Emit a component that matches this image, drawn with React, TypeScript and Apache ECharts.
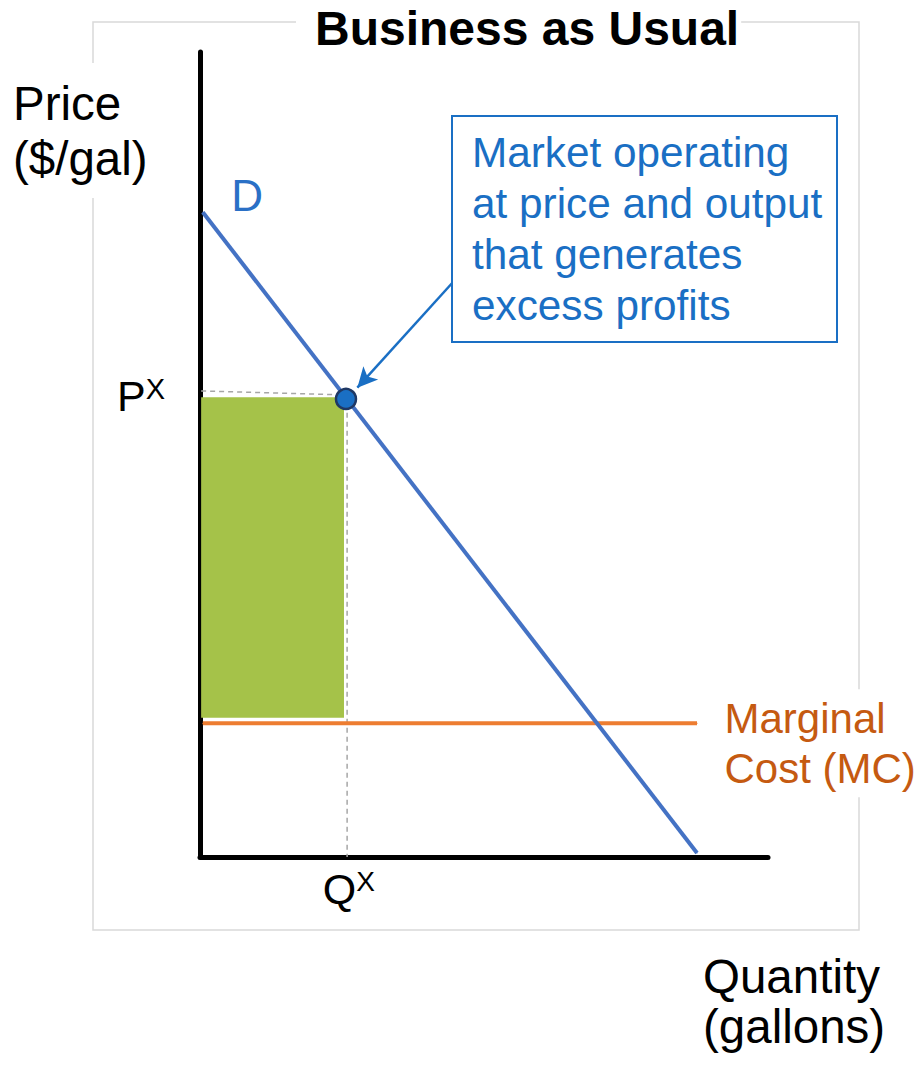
import React, { useEffect, useRef } from "react";
import * as echarts from "echarts";

// Data (quantity, price) in arbitrary units 0..100
const demandLine: number[][] = [[0.5, 80.1], [87.5, 0.5]];
const mcLine: number[][] = [[0.5, 16.6], [87.5, 16.6]];
const equilibrium: number[] = [25.7, 56.9];
const profitBox: number[] = [0.2, 17.3, 25.35, 57.1]; // x0, y0, x1, y1
const priceGuide: number[][] = [[0.2, 57.9], [25.7, 57.4]];
const qtyGuide: number[][] = [[25.9, 56.3], [25.9, 0]];
const pxTicks: number[] = [57.3];
const qxTicks: number[] = [26.2];
const arrowFrom: number[] = [44.4, 71.3];
const arrowTo: number[] = [27.7, 58.3];

const FONT = "Liberation Sans, Arial, Helvetica, sans-serif";
const BLUE = "#1A6FC4";

export default function App() {
  const ref = useRef<HTMLDivElement>(null);
  useEffect(() => {
    document.body.style.margin = "0";
    const chart = echarts.init(ref.current!, null, { renderer: "svg" });
    const option: any = {
      animation: false,
      backgroundColor: "#fff",
      textStyle: { fontFamily: FONT },
      grid: { left: 200, top: 52, width: 568, height: 805, containLabel: false, outerBoundsMode: "none" },
      xAxis: {
        type: "value",
        min: 0,
        max: 100,
        axisLine: { show: true, onZero: false, lineStyle: { color: "#000", width: 5 } },
        axisTick: { show: false },
        splitLine: { show: false },
        axisLabel: {
          customValues: qxTicks,
          margin: 10,
          formatter: () => "{a|Q}{b|X}",
          rich: {
            a: { fontSize: 43, color: "#000", fontFamily: FONT },
            b: { fontSize: 28, color: "#000", fontFamily: FONT, verticalAlign: "top" },
          },
        },
      },
      yAxis: {
        type: "value",
        min: 0,
        max: 100,
        axisLine: { show: true, onZero: false, lineStyle: { color: "#000", width: 5 } },
        axisTick: { show: false },
        splitLine: { show: false },
        axisLabel: {
          customValues: pxTicks,
          margin: 35,
          formatter: () => "{a|P}{b|X}",
          rich: {
            a: { fontSize: 43, color: "#000", fontFamily: FONT },
            b: { fontSize: 29, color: "#000", fontFamily: FONT, verticalAlign: "top" },
          },
        },
      },
      graphic: [
        {
          type: "rect",
          z: 0,
          silent: true,
          shape: { x: 93, y: 22, width: 766, height: 908 },
          style: { fill: "none", stroke: "#D9D9D9", lineWidth: 1.5 },
        },
        {
          type: "text",
          z: 10,
          x: 296,
          y: 28,
          style: {
            text: "Business as Usual",
            fontSize: 48,
            fontWeight: "bold",
            fontFamily: FONT,
            fill: "#000",
            align: "left",
            verticalAlign: "middle",
            backgroundColor: "#fff",
            padding: [4, 2, 4, 19],
          },
        },
        {
          type: "text",
          z: 10,
          x: 10,
          y: 63,
          style: {
            text: "Price\n($/gal)",
            fontSize: 47.5,
            lineHeight: 55,
            fontFamily: FONT,
            fill: "#000",
            align: "left",
            verticalAlign: "top",
            backgroundColor: "#fff",
            padding: [13, 8, 12, 3],
          },
        },
        {
          type: "text",
          z: 10,
          x: 703,
          y: 951,
          style: {
            text: "Quantity\n(gallons)",
            fontSize: 47.5,
            lineHeight: 50,
            fontFamily: FONT,
            fill: "#000",
            align: "left",
            verticalAlign: "top",
          },
        },
        {
          type: "rect",
          z: 10,
          shape: { x: 452, y: 116, width: 385, height: 226 },
          style: { fill: "#fff", stroke: BLUE, lineWidth: 2 },
        },
        {
          type: "text",
          z: 11,
          x: 472,
          y: 127,
          style: {
            text: "Market operating\nat price and output\nthat generates\nexcess profits",
            fontSize: 42.3,
            lineHeight: 51,
            fontFamily: FONT,
            fill: BLUE,
            align: "left",
            verticalAlign: "top",
          },
        },
      ],
      series: [
        {
          type: "custom",
          z: 1,
          silent: true,
          data: [profitBox],
          encode: { x: [0, 2], y: [1, 3] },
          renderItem: (_p: any, api: any) => {
            const p0 = api.coord([api.value(0), api.value(1)]);
            const p1 = api.coord([api.value(2), api.value(3)]);
            return {
              type: "rect",
              shape: { x: p0[0], y: p1[1], width: p1[0] - p0[0], height: p0[1] - p1[1] },
              style: { fill: "#A5C249" },
            };
          },
        },
        {
          type: "line",
          z: 3,
          silent: true,
          data: priceGuide,
          symbol: "none",
          lineStyle: { color: "#A6A6A6", width: 1.5, type: [5, 4] },
        },
        {
          type: "line",
          z: 3,
          silent: true,
          data: qtyGuide,
          symbol: "none",
          lineStyle: { color: "#A6A6A6", width: 1.5, type: [5, 4] },
        },
        {
          type: "line",
          z: 4,
          silent: true,
          data: mcLine.map((p, i) =>
            i === 1
              ? {
                  value: p,
                  label: {
                    show: true,
                    position: "right",
                    distance: 23,
                    offset: [0, 20],
                    formatter: "Marginal\nCost (MC)",
                    fontSize: 42,
                    lineHeight: 50,
                    fontFamily: FONT,
                    color: "#C55A11",
                    align: "left",
                    backgroundColor: "#fff",
                    padding: [4, 4, 4, 4],
                  },
                }
              : p
          ),
          symbol: "circle",
          symbolSize: 1,
          showSymbol: true,
          itemStyle: { color: "#ED7D31" },
          lineStyle: { color: "#ED7D31", width: 4 },
        },
        {
          type: "line",
          z: 5,
          silent: true,
          data: demandLine.map((p, i) =>
            i === 0
              ? {
                  value: p,
                  label: {
                    show: true,
                    position: "right",
                    distance: 28,
                    offset: [0, -17],
                    formatter: "D",
                    fontSize: 44,
                    fontFamily: FONT,
                    color: "#2A70C6",
                  },
                }
              : p
          ),
          symbol: "circle",
          symbolSize: 1,
          showSymbol: true,
          itemStyle: { color: "#4472C4" },
          lineStyle: { color: "#4472C4", width: 4 },
        },
        {
          type: "scatter",
          z: 6,
          silent: true,
          data: [equilibrium],
          symbol: "circle",
          symbolSize: 20,
          itemStyle: { color: "#1A6FC4", borderColor: "#1F3864", borderWidth: 2.5, opacity: 1 },
          markLine: {
            silent: true,
            symbol: ["none", "arrow"],
            symbolSize: [15, 20],
            label: { show: false },
            lineStyle: { color: BLUE, width: 2.5, type: "solid" },
            data: [[{ coord: arrowFrom }, { coord: arrowTo }]],
          },
        },
      ],
    };
    chart.setOption(option);
    return () => chart.dispose();
  }, []);
  return <div ref={ref} style={{ width: 922, height: 1065 }} />;
}
